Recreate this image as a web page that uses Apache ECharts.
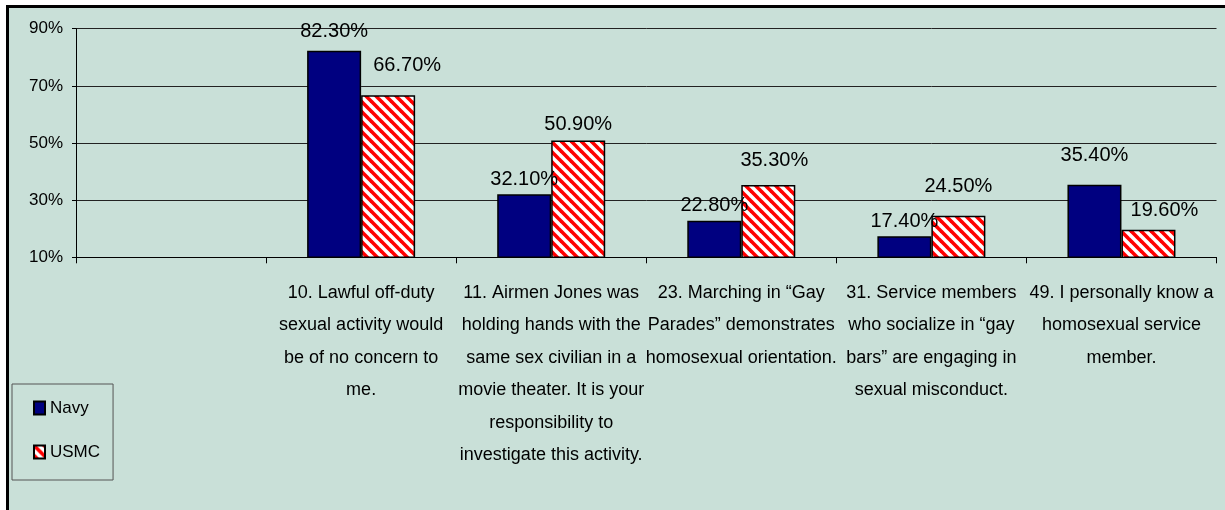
<!DOCTYPE html>
<html>
<head>
<meta charset="utf-8">
<script src="https://cdn.jsdelivr.net/npm/echarts@6/dist/echarts.min.js"></script>
<style>
  html, body { margin: 0; padding: 0; background: #ffffff; width: 1225px; height: 510px; overflow: hidden; }
  #frame { position: absolute; left: 6px; top: 5px; width: 1230px; height: 530px; border: 3px solid #000; background: #C9E0D8; }
  #chart { position: absolute; left: 0; top: 0; width: 1225px; height: 510px; }
</style>
</head>
<body>
<div id="frame"></div>
<div id="chart"></div>
<script>
// ---- data ----
const categories = [
  '',
  '10. Lawful off-duty\nsexual activity would\nbe of no concern to\nme.',
  '11. Airmen Jones was\nholding hands with the\nsame sex civilian in a\nmovie theater. It is your\nresponsibility to\ninvestigate this activity.',
  '23. Marching in \u201cGay\nParades\u201d demonstrates\nhomosexual orientation.',
  '31. Service members\nwho socialize in \u201cgay\nbars\u201d are engaging in\nsexual misconduct.',
  '49. I personally know a\nhomosexual service\nmember.'
];
const navy = ['-', 82.3, 32.1, 22.8, 17.4, 35.4];
const usmc = ['-', 66.7, 50.9, 35.3, 24.5, 19.6];
const yTicks = { min: 10, max: 90, interval: 20 };
const seriesNames = ['Navy', 'USMC'];

// label nudges (style only): [dx, dy]
const navyLabelNudge = [[0,0],[0,-4],[0,0],[0,0],[0,0],[0,-14]];
const usmcLabelNudge = [[0,0],[19,-15],[0,-1],[6,-10],[0,-14],[16,-4]];

// ---- style ----
const FONT = "'Liberation Sans', Arial, sans-serif";

function stripePattern() {
  const s = 10;
  const c = document.createElement('canvas');
  c.width = s; c.height = s;
  const g = c.getContext('2d');
  g.fillStyle = '#ffffff';
  g.fillRect(0, 0, s, s);
  g.strokeStyle = '#ff0000';
  g.lineWidth = 3.6;
  for (let k = -2; k <= 2; k++) {
    g.beginPath();
    g.moveTo(-s, -s + k * s);
    g.lineTo(2 * s, 2 * s + k * s);
    g.stroke();
  }
  return c;
}

function withLabels(values, nudges) {
  return values.map((v, i) => ({
    value: v,
    label: { offset: nudges[i] }
  }));
}

const chart = echarts.init(document.getElementById('chart'), null, { renderer: 'canvas' });

const labelCommon = {
  show: true,
  position: 'top',
  distance: 5,
  fontFamily: FONT,
  fontSize: 20,
  color: '#000',
  formatter: p => (typeof p.value === 'number' ? p.value.toFixed(2) + '%' : '')
};

chart.setOption({
  animation: false,
  backgroundColor: 'transparent',
  grid: { left: 76, right: 8.5, top: 28.7, bottom: 252.7, containLabel: false },
  legend: {
    orient: 'vertical',
    left: 12,
    top: 384,
    padding: [12, 13, 16, 21],
    itemGap: 20,
    itemWidth: 11,
    itemHeight: 13,
    icon: 'rect',
    borderColor: '#555',
    borderWidth: 1,
    backgroundColor: 'transparent',
    textStyle: { fontFamily: FONT, fontSize: 17, color: '#000', lineHeight: 24 },
    data: seriesNames
  },
  xAxis: {
    type: 'category',
    data: categories,
    axisLine: { lineStyle: { color: '#000', width: 1 } },
    axisTick: { show: true, length: 6, lineStyle: { color: '#000' } },
    axisLabel: {
      interval: 0,
      margin: 19,
      fontFamily: FONT,
      fontSize: 18,
      lineHeight: 32.5,
      color: '#000',
      align: 'center'
    },
    splitLine: { show: false }
  },
  yAxis: {
    type: 'value',
    min: yTicks.min,
    max: yTicks.max,
    interval: yTicks.interval,
    axisLine: { show: true, lineStyle: { color: '#000', width: 1 } },
    axisTick: { show: true, length: 4, lineStyle: { color: '#000' } },
    axisLabel: {
      margin: 13,
      fontFamily: FONT,
      fontSize: 17,
      color: '#000',
      formatter: '{value}%'
    },
    splitLine: { show: true, lineStyle: { color: '#222', width: 1 } }
  },
  series: [
    {
      name: seriesNames[0],
      type: 'bar',
      barWidth: 54,
      barGap: '0%',
      data: withLabels(navy, navyLabelNudge),
      itemStyle: { color: '#000080', borderColor: '#000', borderWidth: 1.5 },
      label: labelCommon
    },
    {
      name: seriesNames[1],
      type: 'bar',
      barWidth: 54,
      barGap: '0%',
      data: withLabels(usmc, usmcLabelNudge),
      itemStyle: {
        color: { image: stripePattern(), repeat: 'repeat' },
        borderColor: '#000',
        borderWidth: 1.5
      },
      label: labelCommon
    }
  ]
});
</script>
</body>
</html>
